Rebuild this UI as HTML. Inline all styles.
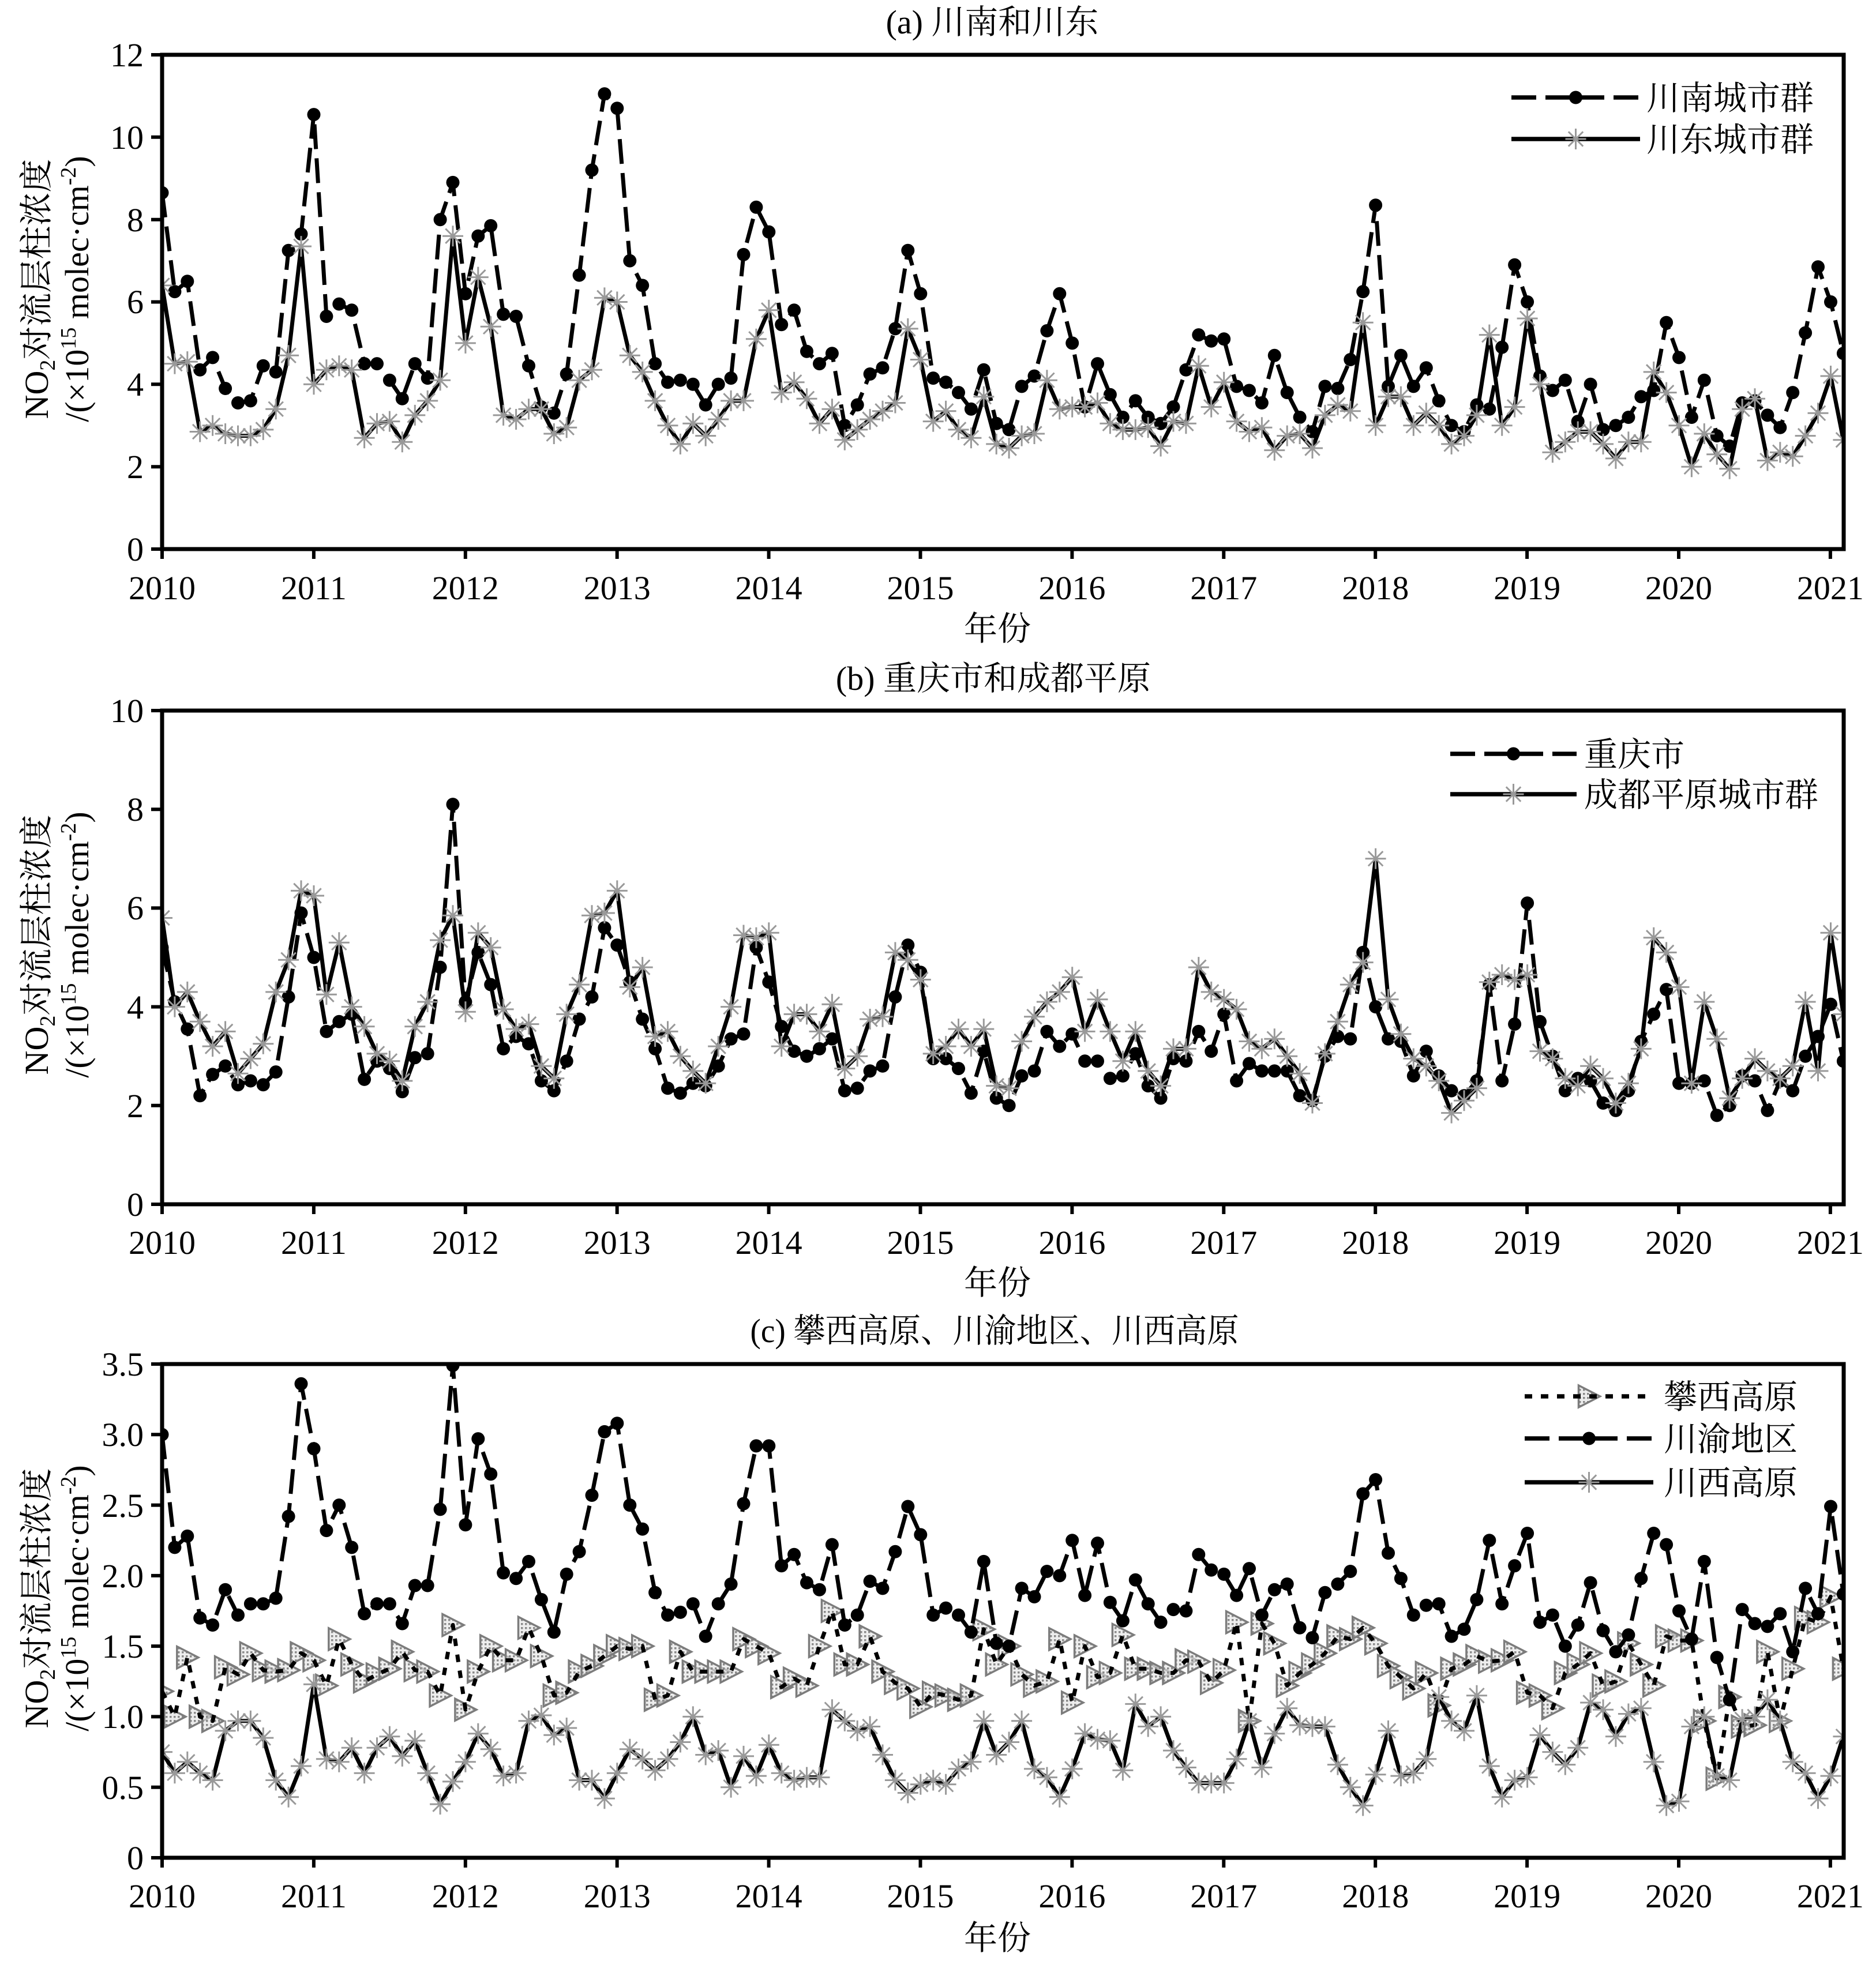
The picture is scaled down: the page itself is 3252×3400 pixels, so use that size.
<!DOCTYPE html>
<html><head><meta charset="utf-8">
<style>
html,body{margin:0;padding:0;background:#fff;}
svg{display:block;}
text{font-family:"Liberation Serif","Noto Serif CJK SC",serif;fill:#000;}
</style></head>
<body>
<svg id="s" width="3252" height="3400" viewBox="0 0 3252 3400">
<rect width="3252" height="3400" fill="#fff"/>
<defs>
<clipPath id="ca"><rect x="281" y="95" width="2915" height="857"/></clipPath>
<clipPath id="cb"><rect x="281" y="1232" width="2915" height="856"/></clipPath>
<clipPath id="cc"><rect x="281" y="2365" width="2915" height="856"/></clipPath>
<pattern id="hatch" width="7" height="7" patternUnits="userSpaceOnUse">
<rect width="7" height="7" fill="#e2e2e2" fill-opacity="0.6"/>
<rect width="3.5" height="3.5" fill="#8a8a8a"/>
</pattern>
</defs>
<g id="data"></g>

<!-- Titles -->
<text x="1720" y="58" font-size="58" text-anchor="middle">(a) 川南和川东</text>
<text x="1722" y="1196" font-size="58" text-anchor="middle">(b) 重庆市和成都平原</text>
<text x="1724" y="2327" font-size="58" text-anchor="middle" textLength="847" lengthAdjust="spacingAndGlyphs">(c) 攀西高原、川渝地区、川西高原</text>

<!-- Y labels -->
<g font-size="58">
<text transform="translate(83,501) rotate(-90)" text-anchor="middle">NO<tspan font-size="38" dy="12">2</tspan><tspan dy="-12">对流层柱浓度</tspan></text>
<text transform="translate(153,501) rotate(-90)" text-anchor="middle">/(×10<tspan font-size="38" dy="-22">15</tspan><tspan dy="22"> molec·cm</tspan><tspan font-size="38" dy="-22">-2</tspan><tspan dy="22">)</tspan></text>
<text transform="translate(83,1638) rotate(-90)" text-anchor="middle">NO<tspan font-size="38" dy="12">2</tspan><tspan dy="-12">对流层柱浓度</tspan></text>
<text transform="translate(153,1638) rotate(-90)" text-anchor="middle">/(×10<tspan font-size="38" dy="-22">15</tspan><tspan dy="22"> molec·cm</tspan><tspan font-size="38" dy="-22">-2</tspan><tspan dy="22">)</tspan></text>
<text transform="translate(83,2771) rotate(-90)" text-anchor="middle">NO<tspan font-size="38" dy="12">2</tspan><tspan dy="-12">对流层柱浓度</tspan></text>
<text transform="translate(153,2771) rotate(-90)" text-anchor="middle">/(×10<tspan font-size="38" dy="-22">15</tspan><tspan dy="22"> molec·cm</tspan><tspan font-size="38" dy="-22">-2</tspan><tspan dy="22">)</tspan></text>
</g>

<!-- Y tick labels -->
<g font-size="58" text-anchor="end">
<text x="249" y="972">0</text><text x="249" y="829">2</text><text x="249" y="686">4</text><text x="249" y="543">6</text><text x="249" y="401">8</text><text x="249" y="258">10</text><text x="249" y="115">12</text>
<text x="249" y="2108">0</text><text x="249" y="1937">2</text><text x="249" y="1766">4</text><text x="249" y="1594">6</text><text x="249" y="1423">8</text><text x="249" y="1252">10</text>
<text x="249" y="3241">0</text><text x="249" y="3119">0.5</text><text x="249" y="2996">1.0</text><text x="249" y="2874">1.5</text><text x="249" y="2752">2.0</text><text x="249" y="2630">2.5</text><text x="249" y="2507">3.0</text><text x="249" y="2385">3.5</text>
</g>

<!-- X tick labels -->
<g font-size="58" text-anchor="middle">
<text x="281" y="1039">2010</text><text x="543.9" y="1039">2011</text><text x="806.8" y="1039">2012</text><text x="1069.7" y="1039">2013</text><text x="1332.6" y="1039">2014</text><text x="1595.5" y="1039">2015</text><text x="1858.4" y="1039">2016</text><text x="2121.3" y="1039">2017</text><text x="2384.2" y="1039">2018</text><text x="2647.1" y="1039">2019</text><text x="2910" y="1039">2020</text><text x="3172.9" y="1039">2021</text>
<text x="281" y="2174">2010</text><text x="543.9" y="2174">2011</text><text x="806.8" y="2174">2012</text><text x="1069.7" y="2174">2013</text><text x="1332.6" y="2174">2014</text><text x="1595.5" y="2174">2015</text><text x="1858.4" y="2174">2016</text><text x="2121.3" y="2174">2017</text><text x="2384.2" y="2174">2018</text><text x="2647.1" y="2174">2019</text><text x="2910" y="2174">2020</text><text x="3172.9" y="2174">2021</text>
<text x="281" y="3307">2010</text><text x="543.9" y="3307">2011</text><text x="806.8" y="3307">2012</text><text x="1069.7" y="3307">2013</text><text x="1332.6" y="3307">2014</text><text x="1595.5" y="3307">2015</text><text x="1858.4" y="3307">2016</text><text x="2121.3" y="3307">2017</text><text x="2384.2" y="3307">2018</text><text x="2647.1" y="3307">2019</text><text x="2910" y="3307">2020</text><text x="3172.9" y="3307">2021</text>
<text x="1729" y="1110">年份</text>
<text x="1729" y="2244">年份</text>
<text x="1729" y="3380">年份</text>
</g>

<!-- Legend text -->
<g font-size="58">
<text x="2854" y="190">川南城市群</text>
<text x="2854" y="262">川东城市群</text>
<text x="2746" y="1328">重庆市</text>
<text x="2746" y="1398">成都平原城市群</text>
<text x="2884" y="2442">攀西高原</text>
<text x="2884" y="2515">川渝地区</text>
<text x="2884" y="2591">川西高原</text>
</g>
</svg>
<script>
(function(){
var X0=281, DX=21.9125, XR=3196;
function px(i){return X0+i*DX;}
var A1=[8.65,6.25,6.5,4.35,4.65,3.9,3.55,3.6,4.45,4.3,7.25,7.65,10.55,5.65,5.95,5.8,4.5,4.5,4.1,3.65,4.5,4.15,8.0,8.9,6.2,7.6,7.85,5.7,5.65,4.45,3.45,3.3,4.25,6.65,9.2,11.05,10.7,7.0,6.4,4.5,4.05,4.1,4.0,3.5,4.0,4.15,7.15,8.3,7.7,5.45,5.8,4.8,4.5,4.75,3.0,3.5,4.25,4.4,5.35,7.25,6.2,4.15,4.05,3.8,3.4,4.35,3.05,2.9,3.95,4.2,5.3,6.2,5.0,3.45,4.5,3.75,3.2,3.6,3.2,3.05,3.45,4.35,5.2,5.05,5.1,3.95,3.85,3.55,4.7,3.8,3.2,2.85,3.95,3.9,4.6,6.25,8.35,3.95,4.7,3.95,4.4,3.6,3.0,2.85,3.5,3.4,4.9,6.9,6.0,4.2,3.85,4.1,3.1,4.0,2.9,3.0,3.2,3.7,3.85,5.5,4.65,3.2,4.1,2.75,2.5,3.55,3.6,3.25,2.95,3.8,5.25,6.85,6.0,4.75];
var A2=[6.4,4.5,4.55,2.85,3.0,2.8,2.75,2.75,2.9,3.4,4.7,7.35,4.0,4.35,4.45,4.35,2.7,3.05,3.1,2.6,3.25,3.6,4.1,7.6,5.0,6.6,5.4,3.25,3.15,3.4,3.4,2.8,2.95,4.1,4.35,6.1,6.0,4.7,4.3,3.6,3.0,2.55,3.05,2.75,3.15,3.6,3.6,5.1,5.8,3.8,4.05,3.65,3.05,3.4,2.65,2.9,3.15,3.35,3.55,5.35,4.6,3.1,3.35,2.9,2.7,3.7,2.55,2.45,2.75,2.8,4.1,3.4,3.45,3.45,3.55,3.05,2.9,2.9,2.95,2.5,3.1,3.05,4.45,3.45,4.05,3.1,2.85,2.95,2.4,2.75,2.8,2.45,3.25,3.5,3.35,5.5,3.0,3.7,3.7,3.0,3.3,3.0,2.55,2.75,3.25,5.2,3.0,3.45,5.6,4.0,2.35,2.6,2.85,2.85,2.55,2.2,2.6,2.6,4.3,3.8,3.0,2.0,2.8,2.3,1.95,3.4,3.65,2.15,2.35,2.25,2.75,3.3,4.2,2.65];
var B1=[5.2,4.1,3.55,2.2,2.63,2.8,2.42,2.5,2.42,2.68,4.2,5.9,5.0,3.5,3.7,3.85,2.53,2.9,2.75,2.28,2.97,3.05,4.8,8.1,4.1,5.1,4.45,3.15,3.4,3.25,2.5,2.3,2.9,3.75,4.2,5.6,5.25,4.5,3.75,3.15,2.35,2.25,2.45,2.4,2.8,3.35,3.45,5.2,4.5,3.6,3.1,3.0,3.15,3.35,2.3,2.35,2.7,2.8,4.2,5.25,4.7,2.95,2.95,2.75,2.25,3.1,2.15,2.0,2.6,2.7,3.5,3.2,3.45,2.9,2.9,2.55,2.6,3.05,2.4,2.15,2.95,2.9,3.5,3.1,3.85,2.5,2.85,2.7,2.7,2.7,2.2,2.1,3.0,3.4,3.35,5.1,4.0,3.35,3.3,2.6,3.1,2.6,2.3,2.2,2.5,4.45,2.5,3.65,6.1,3.7,3.0,2.3,2.55,2.5,2.05,1.9,2.3,3.3,3.85,4.35,2.45,2.45,2.5,1.8,2.0,2.6,2.5,1.9,2.5,2.3,3.0,3.4,4.05,2.9];
var B2=[5.8,4.0,4.3,3.7,3.2,3.5,2.65,2.95,3.25,4.3,4.95,6.35,6.25,4.25,5.3,4.0,3.6,3.05,2.9,2.5,3.6,4.1,5.35,5.85,3.9,5.5,5.2,3.95,3.55,3.65,2.8,2.55,3.85,4.45,5.85,5.9,6.35,4.4,4.8,3.4,3.5,3.0,2.7,2.45,3.2,4.0,5.45,5.4,5.5,3.2,3.85,3.85,3.5,4.05,2.75,3.0,3.75,3.8,5.1,4.95,4.55,3.05,3.2,3.55,3.2,3.55,2.4,2.35,3.3,3.8,4.1,4.3,4.6,3.5,4.15,3.5,2.9,3.5,2.7,2.4,3.15,3.15,4.8,4.3,4.15,3.95,3.3,3.15,3.35,3.0,2.65,2.05,3.05,3.7,4.45,4.9,7.0,4.15,3.45,2.95,2.8,2.5,1.85,2.1,2.35,4.5,4.65,4.55,4.65,3.1,2.95,2.55,2.4,2.8,2.55,2.05,2.45,3.15,5.4,5.1,4.4,2.45,4.1,3.35,2.15,2.55,2.95,2.7,2.55,2.8,4.1,2.7,5.5,3.85];
var C1=[1.18,1.0,1.42,1.0,0.97,1.35,1.3,1.45,1.33,1.32,1.33,1.45,1.4,1.22,1.55,1.37,1.25,1.3,1.34,1.46,1.33,1.32,1.15,1.65,1.05,1.32,1.5,1.4,1.4,1.63,1.43,1.15,1.17,1.32,1.36,1.43,1.5,1.48,1.5,1.12,1.15,1.46,1.32,1.32,1.32,1.32,1.55,1.5,1.45,1.21,1.27,1.22,1.5,1.75,1.37,1.37,1.57,1.32,1.24,1.2,1.07,1.17,1.15,1.12,1.15,1.62,1.37,1.5,1.3,1.22,1.25,1.55,1.1,1.5,1.28,1.31,1.58,1.34,1.34,1.31,1.31,1.4,1.39,1.24,1.33,1.67,0.97,1.66,1.52,1.22,1.31,1.37,1.45,1.57,1.55,1.63,1.52,1.36,1.28,1.2,1.31,1.08,1.34,1.37,1.43,1.39,1.4,1.46,1.17,1.15,1.06,1.31,1.37,1.45,1.22,1.25,1.52,1.37,1.22,1.57,1.54,1.54,0.97,0.56,1.14,0.93,0.94,1.46,0.97,1.34,1.7,1.67,1.85,1.34];
var C2=[3.0,2.2,2.28,1.7,1.65,1.9,1.72,1.8,1.8,1.84,2.42,3.36,2.9,2.32,2.5,2.2,1.73,1.8,1.8,1.66,1.93,1.93,2.47,3.49,2.36,2.97,2.72,2.02,1.98,2.1,1.83,1.6,2.01,2.17,2.57,3.02,3.08,2.5,2.33,1.88,1.72,1.74,1.8,1.57,1.8,1.94,2.51,2.92,2.92,2.07,2.15,1.95,1.9,2.22,1.65,1.72,1.96,1.91,2.17,2.49,2.29,1.72,1.77,1.72,1.6,2.1,1.52,1.5,1.91,1.85,2.03,2.0,2.25,1.86,2.23,1.81,1.68,1.97,1.8,1.67,1.76,1.75,2.15,2.04,2.01,1.86,2.05,1.72,1.9,1.94,1.63,1.56,1.88,1.94,2.03,2.58,2.68,2.16,1.98,1.72,1.79,1.8,1.57,1.62,1.83,2.25,1.8,2.07,2.3,1.67,1.72,1.5,1.65,1.95,1.61,1.46,1.58,1.98,2.3,2.22,1.75,1.55,2.1,1.42,1.12,1.76,1.66,1.64,1.73,1.46,1.91,1.73,2.49,1.87];
var C3=[0.75,0.6,0.68,0.6,0.55,0.9,0.97,0.97,0.85,0.55,0.43,0.65,1.23,0.7,0.68,0.78,0.6,0.78,0.86,0.72,0.83,0.6,0.38,0.54,0.68,0.88,0.77,0.58,0.6,0.97,1.01,0.87,0.92,0.55,0.55,0.42,0.6,0.77,0.7,0.62,0.7,0.82,1.0,0.73,0.76,0.5,0.72,0.58,0.8,0.6,0.55,0.57,0.57,1.05,0.97,0.9,0.93,0.73,0.55,0.46,0.52,0.55,0.52,0.63,0.68,0.97,0.73,0.82,0.97,0.63,0.57,0.43,0.63,0.88,0.84,0.83,0.62,1.09,0.93,1.0,0.76,0.64,0.53,0.53,0.53,0.7,0.97,0.64,0.88,1.06,0.94,0.93,0.93,0.66,0.5,0.37,0.59,0.9,0.58,0.6,0.7,1.14,0.97,0.9,1.15,0.65,0.43,0.55,0.57,0.87,0.75,0.66,0.78,1.1,1.05,0.86,1.02,1.06,0.68,0.37,0.4,0.93,1.0,0.58,0.55,0.98,1.0,1.12,0.97,0.68,0.6,0.42,0.58,0.86];

function f(v){return v.toFixed(1);}
function marker(m,x,y){
  if(m==='circle') return '<circle cx="'+f(x)+'" cy="'+f(y)+'" r="11.5" fill="#000"/>';
  if(m==='star'){
    var a=18,b=12.7;
    return '<path d="M'+f(x-a)+' '+f(y)+'H'+f(x+a)+'M'+f(x)+' '+f(y-a)+'V'+f(y+a)+'M'+f(x-b)+' '+f(y-b)+'L'+f(x+b)+' '+f(y+b)+'M'+f(x-b)+' '+f(y+b)+'L'+f(x+b)+' '+f(y-b)+'" stroke="#999" stroke-width="3" fill="none"/>';
  }
  if(m==='tri') return '<path d="M'+f(x-18)+' '+f(y-19)+'L'+f(x+19)+' '+f(y)+'L'+f(x-18)+' '+f(y+19)+'Z" fill="url(#hatch)" stroke="#7c7c7c" stroke-width="3.5"/>';
  return '';
}
function dash(ls){
  if(ls==='dash') return ' stroke-dasharray="43 16"';
  if(ls==='dot') return ' stroke-dasharray="13 15"';
  return '';
}
var panels=[
 {top:95,bot:952,max:12,clip:'ca',yt:[0,2,4,6,8,10,12],series:[{d:A1,ls:'dash',m:'circle'},{d:A2,ls:'solid',m:'star'}],
  leg:{x1:2620,x2:2843,rows:[169,241]}},
 {top:1232,bot:2088,max:10,clip:'cb',yt:[0,2,4,6,8,10],series:[{d:B1,ls:'dash',m:'circle'},{d:B2,ls:'solid',m:'star'}],
  leg:{x1:2514,x2:2733,rows:[1307,1377]}},
 {top:2365,bot:3221,max:3.5,clip:'cc',yt:[0,0.5,1,1.5,2,2.5,3,3.5],series:[{d:C1,ls:'dot',m:'tri'},{d:C2,ls:'dash',m:'circle'},{d:C3,ls:'solid',m:'star'}],
  leg:{x1:2643,x2:2866,rows:[2421,2494,2570]}}
];
var out='';
panels.forEach(function(p){
  var k=(p.bot-p.top)/p.max;
  out+='<g clip-path="url(#'+p.clip+')">';
  p.series.forEach(function(s){
    var pts=s.d.map(function(v,i){return f(px(i))+','+f(p.bot-v*k);}).join(' ');
    var line='<polyline points="'+pts+'" fill="none" stroke="#000" stroke-width="7" stroke-linejoin="round"'+dash(s.ls)+'/>';
    var mk='';
    s.d.forEach(function(v,i){mk+=marker(s.m,px(i),p.bot-v*k);});
    if(s.m==='tri'){out+=mk+line;} else {out+=line+mk;}
  });
  out+='</g>';
  // legend
  p.series.forEach(function(s,j){
    var y=p.leg.rows[j];
    var ln='<line x1="'+p.leg.x1+'" x2="'+p.leg.x2+'" y1="'+y+'" y2="'+y+'" stroke="#000" stroke-width="7.5"'+dash(s.ls)+'/>';
    var mk=marker(s.m,(p.leg.x1+p.leg.x2)/2,y);
    if(s.m==='tri'){out+=mk+ln;} else {out+=ln+mk;}
  });
  // frame
  out+='<rect x="281" y="'+p.top+'" width="'+(XR-281)+'" height="'+(p.bot-p.top)+'" fill="none" stroke="#000" stroke-width="7"/>';
  p.yt.forEach(function(v){var y=f(p.bot-v*k);out+='<line x1="262" x2="281" y1="'+y+'" y2="'+y+'" stroke="#000" stroke-width="6"/>';});
  for(var yr=0;yr<=11;yr++){var x=f(X0+yr*262.9);out+='<line x1="'+x+'" x2="'+x+'" y1="'+p.bot+'" y2="'+(p.bot+17)+'" stroke="#000" stroke-width="6"/>';}
});
document.getElementById('data').innerHTML=out;
})();
</script>
</body></html>
